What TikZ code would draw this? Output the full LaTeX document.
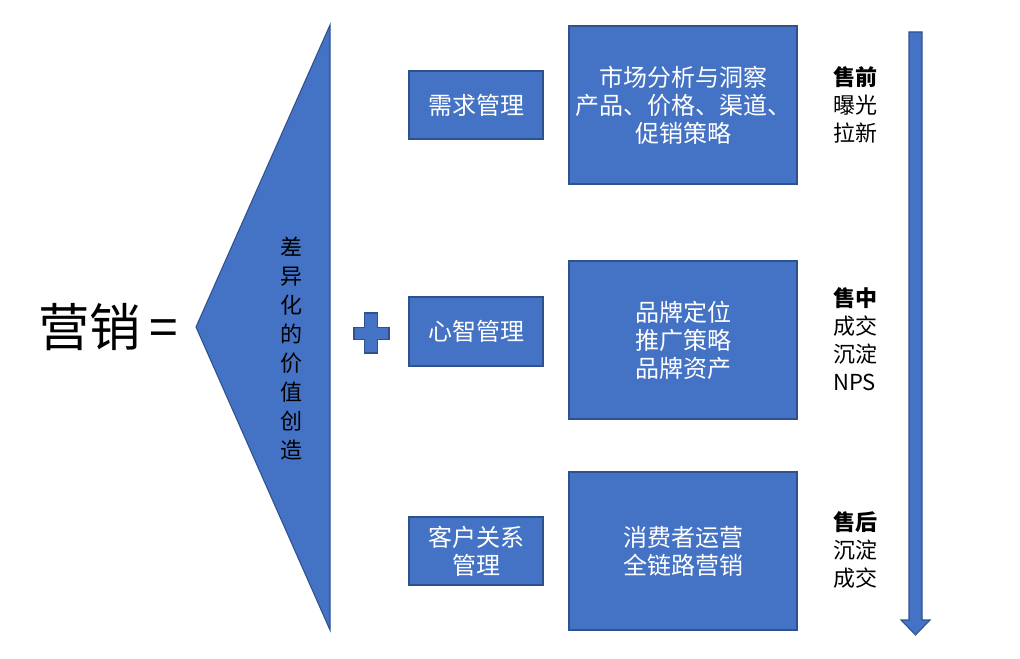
\documentclass[tikz,border=0pt]{standalone}
\usepackage{fontspec}
\setmainfont{Noto Sans CJK SC}
\usetikzlibrary{positioning}
\definecolor{fillb}{HTML}{4472C4}
\definecolor{edgeb}{HTML}{2F528F}
\tikzset{
  bluebox/.style={draw=edgeb, fill=fillb, line width=1pt, text=white, align=center,
    font=\fontsize{18}{21}\selectfont},
  sidelabel/.style={anchor=west, align=left, font=\fontsize{16.5}{21}\selectfont, inner sep=0pt},
}
\begin{document}
\begin{tikzpicture}[x=0.75pt,y=-0.75pt]
\useasboundingbox (0,0) rectangle (1020,659);
% title
\node[anchor=west, font=\fontsize{38.5}{40}\selectfont, inner sep=0pt] (title) at (38,327) {营销\,=};
% triangle
\draw[draw=edgeb, fill=fillb, line width=0.8pt] (330,25) -- (196,327) -- (330,630) -- cycle;
\node[align=center, font=\fontsize{16.5}{21.75}\selectfont, inner sep=0pt] (tri) at (291,349)
  {差\\异\\化\\的\\价\\值\\创\\造};
% plus
\draw[draw=edgeb, fill=fillb, line width=0.8pt]
  (364.5,313) -- (377.5,313) -- (377.5,327.5) -- (389,327.5) -- (389,339.5) -- (377.5,339.5)
  -- (377.5,353) -- (364.5,353) -- (364.5,339.5) -- (354,339.5) -- (354,327.5) -- (364.5,327.5) -- cycle;
% left boxes
\node[bluebox, minimum width=134*0.75pt, minimum height=68*0.75pt] (l1) at (476,105) {需求管理};
\node[bluebox, minimum width=134*0.75pt, minimum height=69*0.75pt] (l2) at (476,331.5) {心智管理};
\node[bluebox, minimum width=134*0.75pt, minimum height=68*0.75pt] (l3) at (476,551) {客户关系\\管理};
% right boxes
\node[bluebox, minimum width=228*0.75pt, minimum height=158*0.75pt] (r1) at (683,105) {市场分析与洞察\\产品、价格、渠道、\\促销策略};
\node[bluebox, minimum width=228*0.75pt, minimum height=158*0.75pt] (r2) at (683,340) {品牌定位\\推广策略\\品牌资产};
\node[bluebox, minimum width=228*0.75pt, minimum height=158*0.75pt] (r3) at (683,551) {消费者运营\\全链路营销};
% side labels
\node[sidelabel] (s1) at (833,105) {\textbf{售前}\\曝光\\拉新};
\node[sidelabel] (s2) at (833,339) {\textbf{售中}\\成交\\沉淀\\NPS};
\node[sidelabel] (s3) at (833,550) {\textbf{售后}\\沉淀\\成交};
% arrow
\draw[draw=edgeb, fill=fillb, line width=0.8pt]
  (909,32) -- (922,32) -- (922,620) -- (930,620) -- (915.5,635) -- (901,620) -- (909,620) -- cycle;
\end{tikzpicture}
\end{document}
